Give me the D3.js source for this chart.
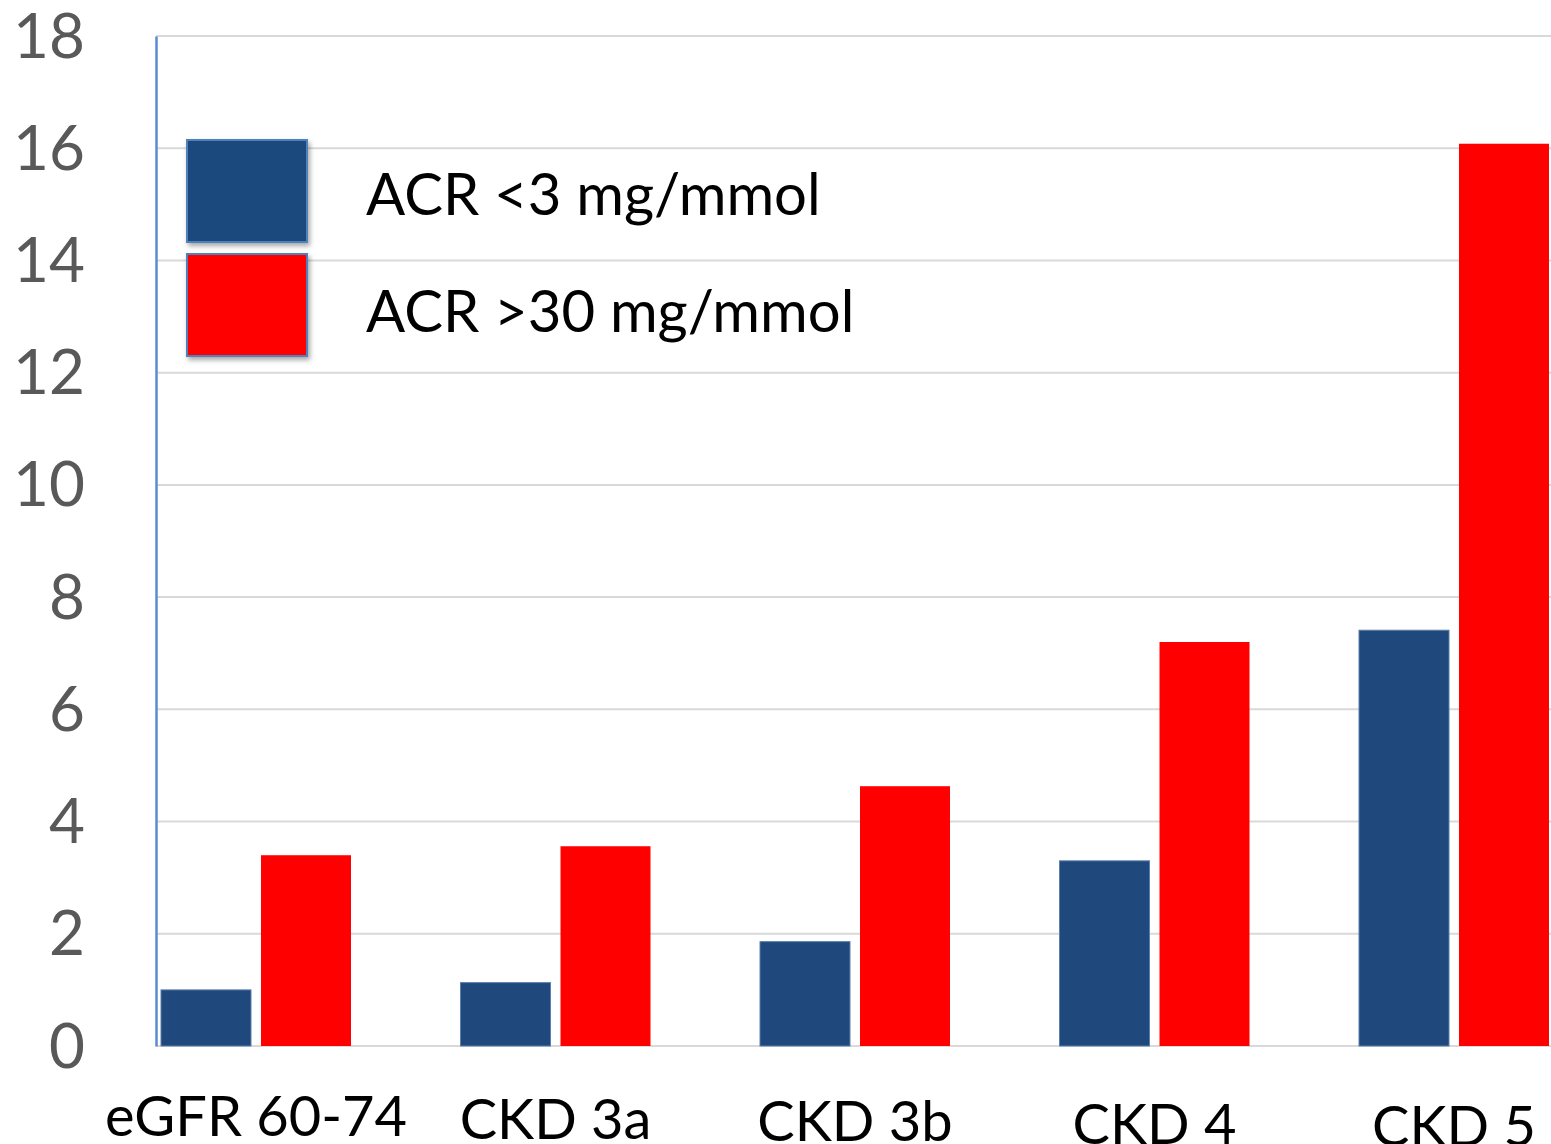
<!DOCTYPE html>
<html>
<head>
<meta charset="utf-8">
<script src="https://cdn.jsdelivr.net/npm/d3@7"></script>
<style>
  body { margin: 0; background: #fff; }
  text { font-family: Lato, "Open Sans", sans-serif; }
</style>
</head>
<body>
<div id="chart_container"></div>
<script>
const categories = ["eGFR 60-74", "CKD 3a", "CKD 3b", "CKD 4", "CKD 5"]
const series = ["ACR <3 mg/mmol", "ACR >30 mg/mmol"]
const acrLow = [1.0, 1.13, 1.86, 3.3, 7.41]
const acrHigh = [3.4, 3.56, 4.63, 7.2, 16.08]
const yTicks = [0, 2, 4, 6, 8, 10, 12, 14, 16, 18]
const COLORS = ["#1f497d", "#ff0000"]

let width = 1551, height = 1144;
let svg = d3.select("#chart_container").append("svg").attr("width", width).attr("height", height);

let defs = svg.append("defs")
defs.append("filter").attr("id", "shadow").attr("x", "-20%").attr("y", "-20%").attr("width", "150%").attr("height", "150%")
    .append("feDropShadow").attr("dx", 2).attr("dy", 3).attr("stdDeviation", 2.5).attr("flood-color", "#000").attr("flood-opacity", 0.35)

let y = d3.scaleLinear().domain([0, 18]).range([1046, 36]);

// plot area is clipped on the right in the original, so the bands run past the svg edge
let x0 = d3.scaleBand().domain(categories).range([106.25, 106.25 + 5 * 299.5]).paddingInner(109.5 / 299.5).paddingOuter(109.5 / 299.5 / 2);
let x1 = d3.scaleBand().domain(series).range([0, x0.bandwidth()]).paddingInner(0.1);

// gridlines
svg.append("g").selectAll("line").data(yTicks).join("line")
    .attr("x1", 156).attr("x2", width)
    .attr("y1", d => y(d)).attr("y2", d => y(d))
    .attr("stroke", "#d9d9d9").attr("stroke-width", 2)

// y axis
let yAxis = d3.axisLeft(y).tickValues(yTicks).tickSize(0).tickPadding(71)
let ga = svg.append("g").attr("transform", "translate(156,0)").call(yAxis)
ga.select(".domain").attr("stroke", "#5b8bd0").attr("stroke-width", 2.5)
ga.selectAll("text").attr("font-size", "62px").attr("fill", "#595959").attr("dy", "0.34em")
    .style("font-family", "Lato, 'Open Sans', sans-serif")

// bars
let rows = categories.map((c, i) => ({ cat: c, values: [acrLow[i], acrHigh[i]] }))
let groups = svg.append("g").selectAll("g").data(rows).join("g")
    .attr("transform", d => "translate(" + x0(d.cat) + ",0)")

groups.selectAll("rect").data(d => d.values.map((v, j) => ({ s: series[j], v: v, j: j }))).join("rect")
    .attr("x", d => x1(d.s))
    .attr("y", d => y(d.v))
    .attr("width", x1.bandwidth())
    .attr("height", d => y(0) - y(d.v))
    .attr("fill", d => COLORS[d.j])
    .attr("stroke", d => d.j == 0 ? "#5d7fab" : "none")
    .attr("stroke-width", 1)

// category labels
svg.append("g").selectAll("text").data(categories).join("text")
    .text(d => d)
    .attr("x", d => x0(d) + x0.bandwidth() / 2)
    .attr("y", (d, i) => 1136 + i * 2.5)
    .attr("text-anchor", "middle")
    .attr("font-size", "56px")
    .attr("fill", "#000")

// legend
let legend = svg.append("g").selectAll("g").data(series).join("g")
    .attr("transform", (d, i) => "translate(187," + (140 + i * 114) + ")")

legend.append("rect")
    .attr("width", 120).attr("height", 102)
    .attr("fill", (d, i) => COLORS[i])
    .attr("stroke", "#4f81bd").attr("stroke-width", 2)
    .attr("filter", "url(#shadow)")

legend.append("text")
    .text(d => d)
    .attr("x", 179).attr("y", (d, i) => 75 + i * 3)
    .attr("font-size", "58px")
    .attr("fill", "#000")
</script>
</body>
</html>
